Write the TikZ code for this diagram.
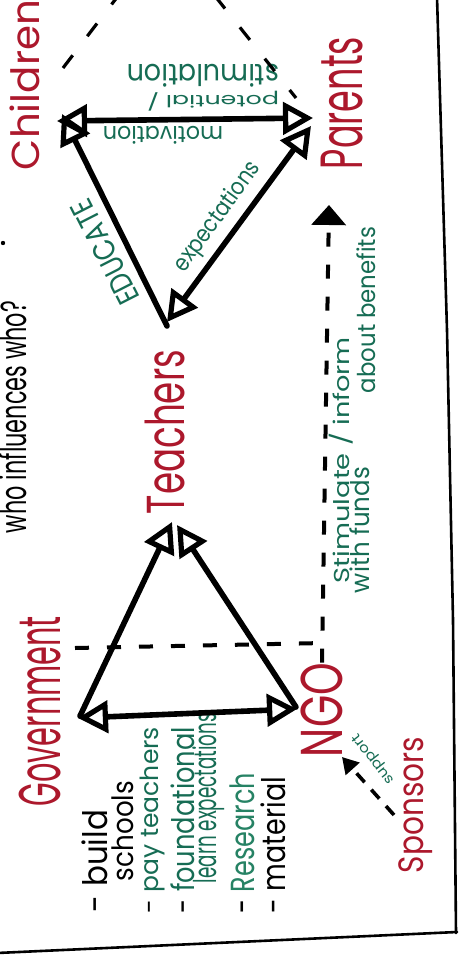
\documentclass[tikz,border=0pt]{standalone}
\usepackage{fontspec}
\usepackage{graphicx}
\setmainfont{Poppins}
\usetikzlibrary{arrows.meta}
\definecolor{inkred}{RGB}{172,24,44}
\definecolor{inkgreen}{RGB}{22,108,84}
\definecolor{inkgreenlt}{RGB}{38,130,100}
\newcommand{\fitwh}[3]{\resizebox*{#1}{#2}{#3}}
\begin{document}
\begin{tikzpicture}[x=0.5pt,y=-0.5pt,
  actor/.style={text=inkred, inner sep=0pt, rotate=90},
  note/.style={text=inkgreen, inner sep=0pt},
  item/.style={inner sep=0pt, rotate=90},
  edge/.style={line width=2.8pt, line cap=round, line join=round},
  dline/.style={line width=2pt, dash pattern=on 7pt off 9pt},
  tdash/.style={line width=1.6pt, dash pattern=on 8pt off 12pt},
  frame/.style={line width=1.3pt, line cap=round},
  >={Triangle[open,length=15pt,width=16pt,line width=2.6pt]}]
\useasboundingbox (0,0) rectangle (460,963);
\fill[white] (0,0) rectangle (460,963);
\clip (0,0) rectangle (460,963);

% actors
\node[actor] (children) at (25,85) {\fitwh{85pt}{15pt}{Children}};
\node[actor] (parents) at (342,103) {\fitwh{66pt}{21pt}{Parents}};
\node[actor] (teachers) at (165,432) {\fitwh{82pt}{20pt}{Teachers}};
\node[actor] (government) at (40,711) {\fitwh{95pt}{21pt}{Government}};
\node[actor] (ngo) at (322,710) {\fitwh{47pt}{21pt}{NGO}};
\node[actor] (sponsors) at (416,805) {\fitwh{68pt}{17pt}{Sponsors}};
\node[inner sep=0pt, rotate=90] (question) at (13,417) {\fitwh{116pt}{14pt}{who influences who?}};
\fill (3,243) circle (2.2);

% green labels
\node[note, rotate=180] (pot) at (213,101) {\fitwh{66pt}{10pt}{potential /}};
\node[note, rotate=180] (stim) at (203,76) {\fitwh{76pt}{11.5pt}{stimulation}};
\node[note, rotate=180] (mot) at (163,135) {\fitwh{60pt}{9pt}{motivation}};
\node[note, rotate=117] (edu) at (105,252) {\fitwh{57pt}{11pt}{EDUCATE}};
\node[note, rotate=54] (exp) at (218,217) {\fitwh{65pt}{12pt}{expectations}};
\node[note, rotate=90] (stimi) at (341,460) {\fitwh{123pt}{12pt}{Stimulate / inform}};
\node[note, rotate=90] (funds) at (360,530) {\fitwh{63pt}{10pt}{with funds}};
\node[note, rotate=90] (benef) at (366,310) {\fitwh{83pt}{9.5pt}{about benefits}};
\node[note, rotate=128] (support) at (374,759) {\fitwh{30pt}{6.5pt}{support}};

% list
\node[item] (l1) at (95,861) {\fitwh{51pt}{13pt}{- build}};
\node[item] (l2) at (123,831) {\fitwh{50pt}{11pt}{schools}};
\node[item] (l3) at (152,820) {\fitwh{93pt}{12.5pt}{- \textcolor{inkgreen}{pay teachers}}};
\node[item] (l4) at (183,820) {\fitwh{93pt}{12pt}{- \textcolor{inkgreen}{foundational}}};
\node[item, text=inkgreen] (l5) at (209,798) {\fitwh{85pt}{16pt}{learn expectations}};
\node[item] (l6) at (242,843) {\fitwh{70pt}{12.5pt}{- \textcolor{inkgreenlt}{Research}}};
\node[item] (l7) at (273,845) {\fitwh{68pt}{12.5pt}{- material}};

% top triangle
\coordinate (cL) at (57,121); \coordinate (pR) at (313,118);
\draw[edge,<->] (cL) -- (pR);
\coordinate (tB) at (167,326); \coordinate (cE) at (62,114);
\draw[edge,->] (tB) -- (cE);
\coordinate (tX) at (167,322); \coordinate (pX) at (311,126);
\draw[edge,<->] (tX) -- (pX);

% bottom triangle
\coordinate (gL) at (78,718); \coordinate (nR) at (297,709);
\draw[edge,<->] (gL) -- (nR);
\coordinate (gV) at (80,716); \coordinate (tL) at (172,522);
\draw[edge,->] (gV) -- (tL);
\coordinate (nV) at (296,707); \coordinate (tR) at (177,525);
\draw[edge,->] (nV) -- (tR);

% dashed connectors
\coordinate (gD) at (75,648); \coordinate (kD) at (324,643);
\draw[dline] (gD) -- (kD);
\coordinate (pD) at (329,205);
\draw[dline,-{Triangle[length=10pt,width=17pt]}] (ngo.east) -- (pD);

\coordinate (aL1) at (63,68); \coordinate (aL2) at (118,-4);
\coordinate (aR1) at (215,-4); \coordinate (aR2) at (296,98);
\draw[tdash] (aL1) -- (aL2);
\draw[tdash] (aR1) -- (aR2);

\coordinate (sA) at (394,815); \coordinate (sB) at (342,757);
\draw[line width=1.8pt, dash pattern=on 6pt off 5pt, -{Triangle[length=8pt,width=9pt]}] (sA) -- (sB);

% frame
\draw[frame] (437,-3) -- (447,330) -- (453,620) -- (456,933);
\draw[frame] (-3,953) -- (457,932);
\end{tikzpicture}
\end{document}
